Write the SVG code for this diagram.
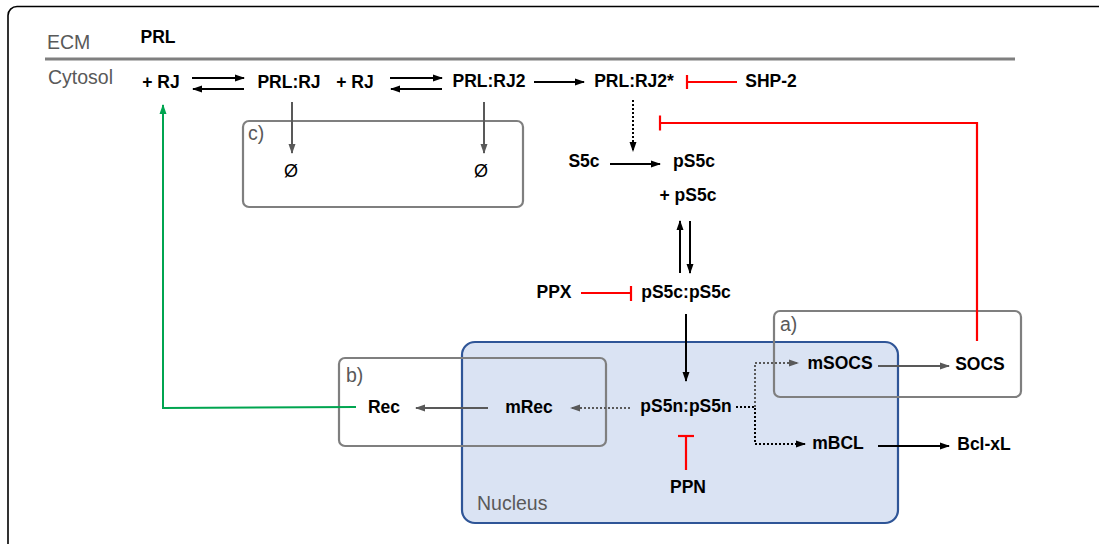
<svg xmlns="http://www.w3.org/2000/svg" width="1099" height="544" viewBox="0 0 1099 544">
<defs>
<style>
.t{font-family:"Liberation Sans",Arial,sans-serif;font-size:17.5px;font-weight:bold;fill:#000;text-anchor:middle}
.g{font-family:"Liberation Sans",Arial,sans-serif;font-size:19.5px;fill:#595959}
.o{font-family:"Liberation Sans",Arial,sans-serif;font-size:18px;fill:#000;text-anchor:middle}
.k{stroke:#000;stroke-width:2;fill:none}
.gr{stroke:#595959;stroke-width:2;fill:none}
.r{stroke:#ff0000;stroke-width:2.2;fill:none}
.dk{stroke:#000;stroke-width:2;fill:none;stroke-dasharray:2 2}
.dg{stroke:#595959;stroke-width:2;fill:none;stroke-dasharray:2 2}
.box{fill:none;stroke:#7f7f7f;stroke-width:2.2}
</style>
<marker id="ak" markerWidth="10" markerHeight="8" refX="9" refY="4" orient="auto" markerUnits="userSpaceOnUse"><path d="M0,0.5 L10,4 L0,7.5 Z" fill="#000"/></marker>
<marker id="ag" markerWidth="10" markerHeight="8" refX="9" refY="4" orient="auto" markerUnits="userSpaceOnUse"><path d="M0,0.5 L10,4 L0,7.5 Z" fill="#595959"/></marker>
<marker id="agr" markerWidth="10" markerHeight="8" refX="9" refY="4" orient="auto" markerUnits="userSpaceOnUse"><path d="M0,0.5 L10,4 L0,7.5 Z" fill="#00a550"/></marker>
<filter id="sh" x="-5%" y="-200%" width="110%" height="500%"><feGaussianBlur stdDeviation="1.2"/></filter>
</defs>

<g id="frame">
<rect x="8" y="6.5" width="1110" height="560" rx="9" fill="#fff" stroke="#000" stroke-width="1.6"/>
<line x1="45" y1="62" x2="1016" y2="62" stroke="#c8c8c8" stroke-width="4" filter="url(#sh)"/>
<line x1="45" y1="59" x2="1015" y2="59" stroke="#7f7f7f" stroke-width="3"/>
<text class="g" x="47" y="49">ECM</text>
<text class="g" x="48" y="84">Cytosol</text>
</g>

<g id="nucleus">
<rect x="462" y="342" width="436" height="181" rx="13" fill="#dae3f3" stroke="#2f5597" stroke-width="2.2"/>
<text class="g" x="477" y="510">Nucleus</text>
</g>

<g id="box-a"><rect class="box" x="774" y="311" width="247" height="86" rx="6"/><text class="g" x="780" y="331">a)</text></g>
<g id="box-b"><rect class="box" x="339" y="358" width="267" height="88" rx="6"/><text class="g" x="346" y="382">b)</text></g>
<g id="box-c"><rect class="box" x="243" y="121" width="280" height="86" rx="6"/><text class="g" x="248" y="140">c)</text></g>

<g id="connectors">
<line class="k" x1="192" y1="78" x2="244" y2="78" marker-end="url(#ak)"/>
<line class="k" x1="244" y1="89" x2="193" y2="89" marker-end="url(#ak)"/>
<line class="k" x1="390" y1="78" x2="442" y2="78" marker-end="url(#ak)"/>
<line class="k" x1="442" y1="89" x2="391" y2="89" marker-end="url(#ak)"/>
<line class="k" x1="534" y1="82" x2="584" y2="82" marker-end="url(#ak)"/>
<line class="gr" x1="292" y1="102" x2="292" y2="153" marker-end="url(#ag)"/>
<line class="gr" x1="484" y1="102" x2="484" y2="153" marker-end="url(#ag)"/>
<line class="r" x1="737" y1="82" x2="687" y2="82"/>
<line class="r" x1="687" y1="75" x2="687" y2="89"/>
<polyline class="r" points="977,341 977,123 660,123"/>
<line class="r" x1="660" y1="115.5" x2="660" y2="130.5"/>
<line class="dk" x1="633" y1="100" x2="633" y2="151" marker-end="url(#ak)"/>
<line class="k" x1="610" y1="164" x2="660" y2="164" marker-end="url(#ak)"/>
<line class="k" x1="680" y1="273" x2="680" y2="221" marker-end="url(#ak)"/>
<line class="k" x1="690" y1="221" x2="690" y2="273" marker-end="url(#ak)"/>
<line class="r" x1="581" y1="293" x2="631" y2="293"/>
<line class="r" x1="631" y1="286" x2="631" y2="301"/>
<line class="k" x1="686" y1="314" x2="686" y2="381" marker-end="url(#ak)"/>
<line class="dg" x1="630" y1="408" x2="571" y2="408" marker-end="url(#ag)"/>
<line class="gr" x1="488" y1="408" x2="416" y2="408" marker-end="url(#ag)"/>
<polyline points="356,407 163,408 163,105" fill="none" stroke="#00a550" stroke-width="2" marker-end="url(#agr)"/>
<polyline class="dk" points="736,407 755,407 755,444 805,444" marker-end="url(#ak)"/>
<polyline class="dg" points="755,407 755,363 798,363" marker-end="url(#ag)"/>
<line class="gr" x1="878" y1="366" x2="949" y2="366" marker-end="url(#ag)"/>
<line class="k" x1="878" y1="446" x2="949" y2="446" marker-end="url(#ak)"/>
<line class="r" x1="686" y1="470" x2="686" y2="436"/>
<line class="r" x1="678" y1="436" x2="694" y2="436"/>
</g>

<g id="n-prl-ecm"><text class="t" x="158" y="43">PRL</text></g>
<g id="n-rj1"><text class="t" x="161" y="88">+ RJ</text></g>
<g id="n-prlrj"><text class="t" x="289" y="88">PRL:RJ</text></g>
<g id="n-rj2"><text class="t" x="355" y="88">+ RJ</text></g>
<g id="n-prlrj2"><text class="t" x="489" y="87">PRL:RJ2</text></g>
<g id="n-prlrj2s"><text class="t" x="634" y="87">PRL:RJ2*</text></g>
<g id="n-shp2"><text class="t" x="771" y="87">SHP-2</text></g>
<g id="n-null1"><text class="o" x="291" y="177">Ø</text></g>
<g id="n-null2"><text class="o" x="481" y="177">Ø</text></g>
<g id="n-s5c"><text class="t" x="584" y="167">S5c</text></g>
<g id="n-ps5c"><text class="t" x="694" y="167">pS5c</text></g>
<g id="n-ps5c2"><text class="t" x="688" y="201">+ pS5c</text></g>
<g id="n-ppx"><text class="t" x="554" y="298">PPX</text></g>
<g id="n-dimer"><text class="t" x="686" y="298">pS5c:pS5c</text></g>
<g id="n-ndimer"><text class="t" x="686" y="412">pS5n:pS5n</text></g>
<g id="n-mrec"><text class="t" x="529" y="413">mRec</text></g>
<g id="n-rec"><text class="t" x="384" y="413">Rec</text></g>
<g id="n-msocs"><text class="t" x="840" y="369">mSOCS</text></g>
<g id="n-socs"><text class="t" x="980" y="370">SOCS</text></g>
<g id="n-mbcl"><text class="t" x="838" y="449">mBCL</text></g>
<g id="n-bclxl"><text class="t" x="984" y="450">Bcl-xL</text></g>
<g id="n-ppn"><text class="t" x="688" y="493">PPN</text></g>
</svg>
